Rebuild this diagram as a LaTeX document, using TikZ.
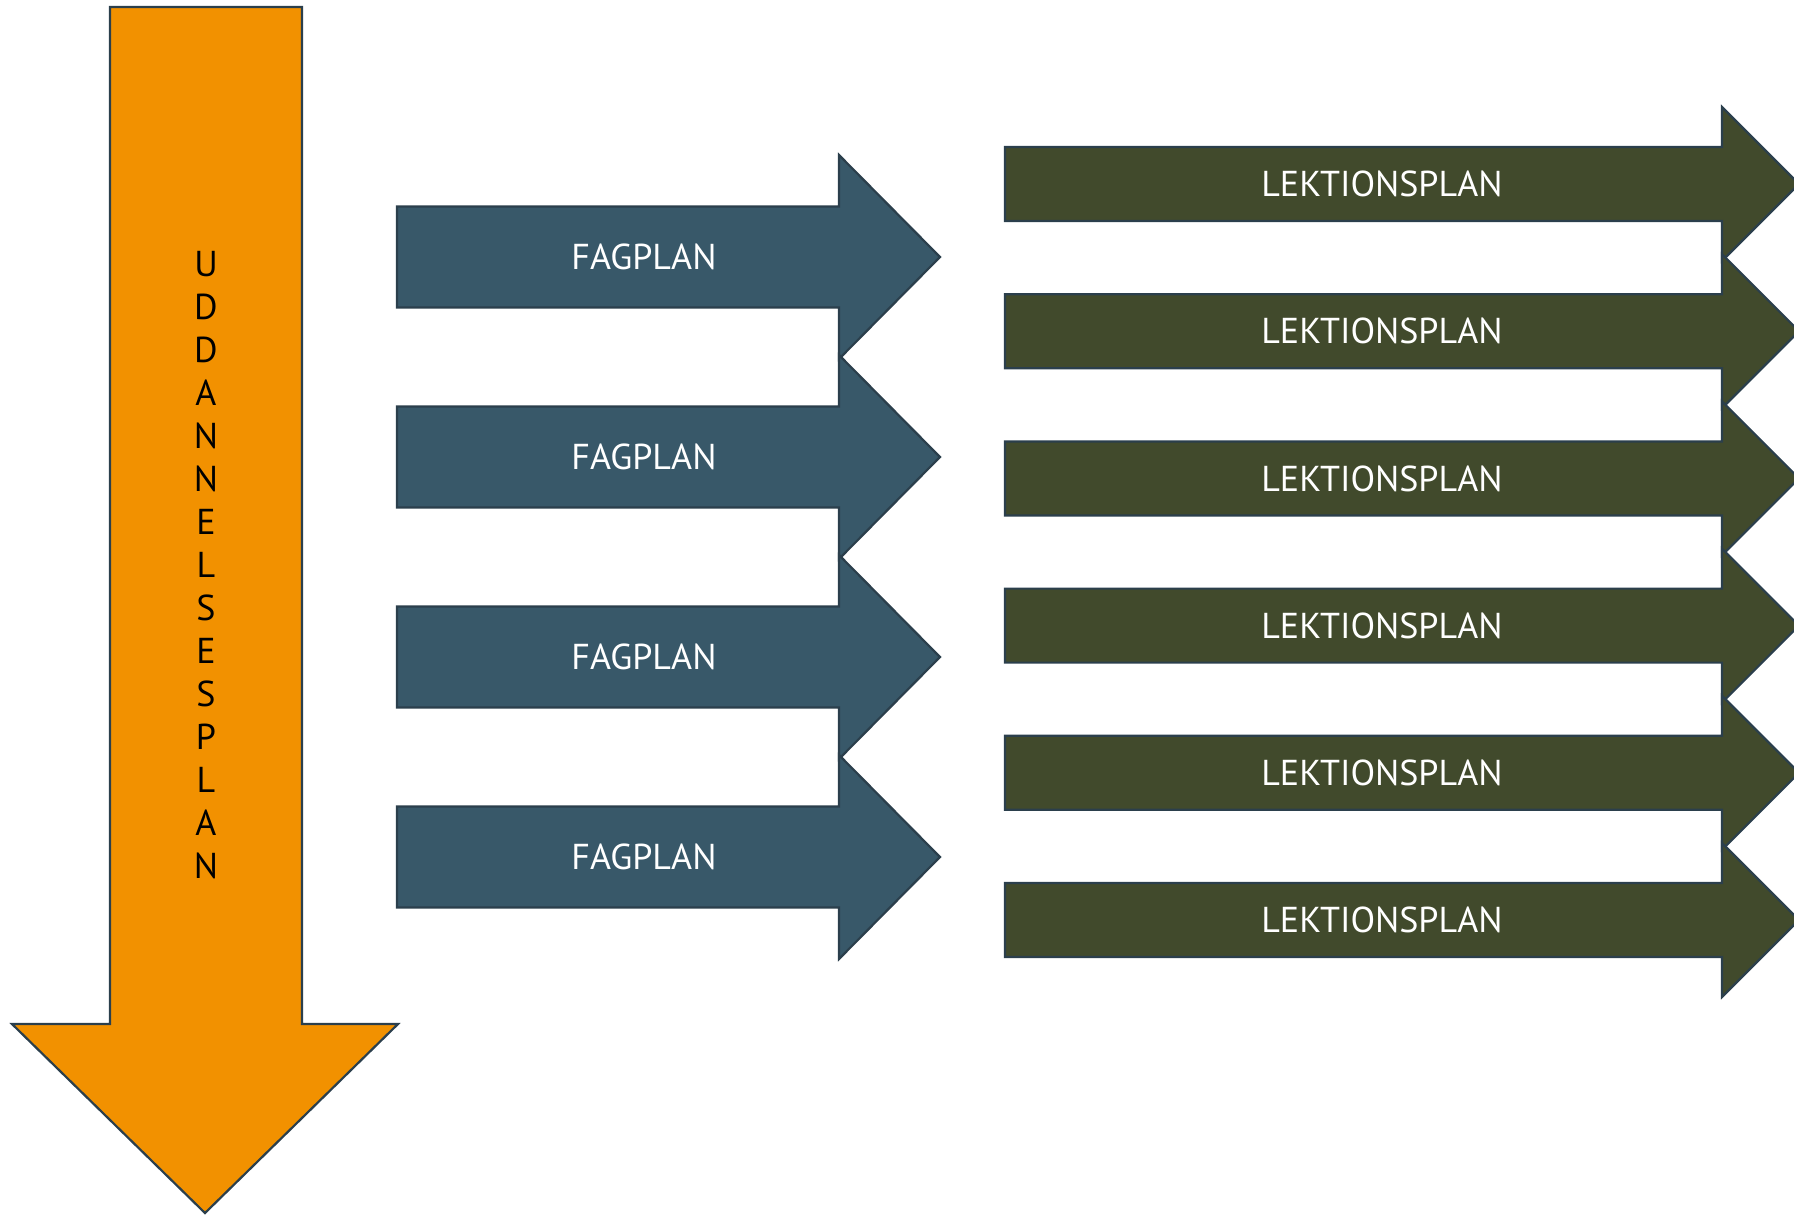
\documentclass[tikz,border=0pt]{standalone}
\usepackage{fontspec}
\setmainfont{PT Sans}
\definecolor{planorange}{HTML}{F29100}
\definecolor{fagblue}{HTML}{385869}
\definecolor{lekgreen}{HTML}{414A2C}
\definecolor{rim}{HTML}{2B3F4C}
\begin{document}
\begin{tikzpicture}[x=0.5pt,y=-0.5pt,
    plate/.style={draw=rim,line width=1.1pt,line join=miter},
    plantext/.style={text=white,font=\fontsize{18}{21.5}\selectfont}]
  \clip (0,0) rectangle (1794,1215);
  % uddannelsesplan
  \draw[plate,fill=planorange](110,7)--(302,7)--(302,1024)--(398,1024)--(205,1213)--(12,1024)--(110,1024)--cycle;
  \node[align=center,font=\fontsize{18}{21.5}\selectfont](U) at (206,565){U\\D\\D\\A\\N\\N\\E\\L\\S\\E\\S\\P\\L\\A\\N};
  % fagplaner
  \foreach \i in {0,...,3}{
    \pgfmathsetmacro\cy{257+200*\i}
    \draw[plate,fill=fagblue](397,\cy-50.5)--(839,\cy-50.5)--(839,\cy-102)--(940,\cy)--(839,\cy+102)--(839,\cy+50.5)--(397,\cy+50.5)--cycle;
    \node[plantext](F\i) at (644,\cy){FAGPLAN};
  }
  % lektionsplaner
  \foreach \i in {0,...,5}{
    \pgfmathsetmacro\cy{184+147.2*\i}
    \draw[plate,fill=lekgreen](1005,\cy-37)--(1722,\cy-37)--(1722,\cy-77)--(1799,\cy)--(1722,\cy+77)--(1722,\cy+37)--(1005,\cy+37)--cycle;
    \node[plantext](L\i) at (1382,\cy){LEKTIONSPLAN};
  }
\end{tikzpicture}
\end{document}
